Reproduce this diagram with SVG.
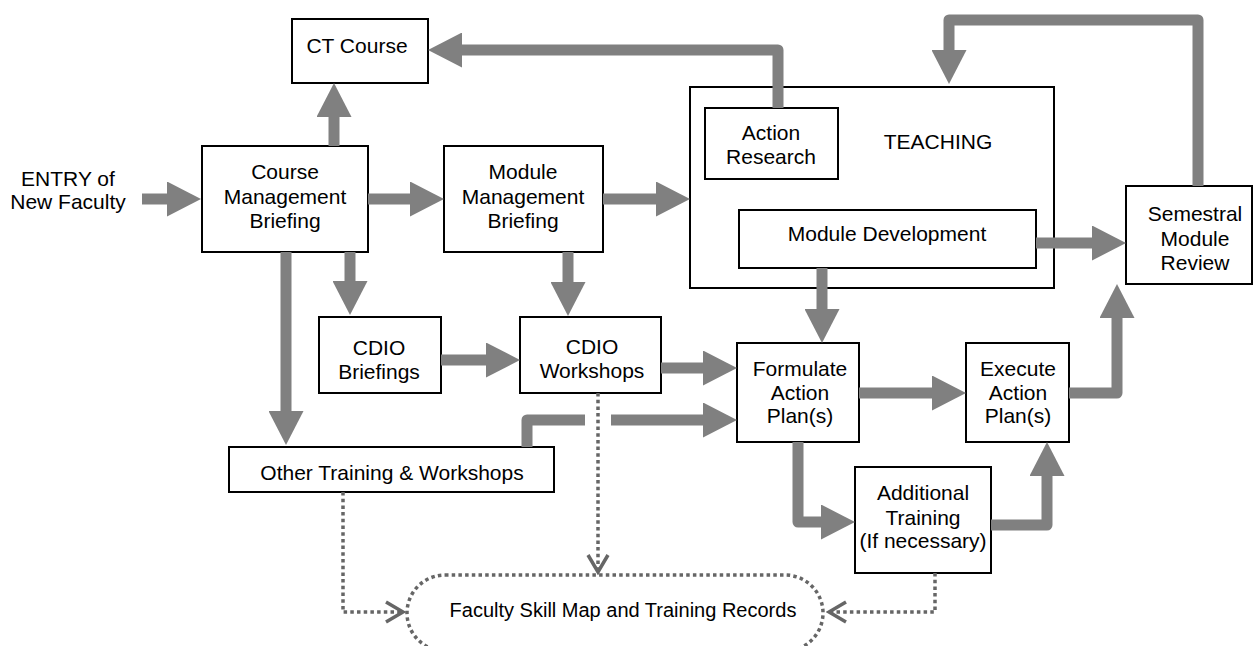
<svg xmlns="http://www.w3.org/2000/svg" width="1253" height="646" viewBox="0 0 1253 646">
<style>
.box{fill:#fff;stroke:#000;stroke-width:2}
.t{font-family:"Liberation Sans",Arial,sans-serif;font-size:21px;fill:#000;text-anchor:middle}
.arr{fill:none;stroke:#808080;stroke-width:11;stroke-linejoin:round;marker-end:url(#ah)}
.seg{fill:none;stroke:#808080;stroke-width:11;stroke-linejoin:round}
.dot{fill:none;stroke:#666;stroke-width:3.5;stroke-dasharray:3.5 3.2}
.dotarr{fill:none;stroke:#666;stroke-width:3.5;stroke-dasharray:3.5 3.2;marker-end:url(#ch)}
</style>
<defs>
<marker id="ah" markerUnits="userSpaceOnUse" viewBox="0 0 34 35" markerWidth="34" markerHeight="35" refX="0" refY="17.5" orient="auto">
<path d="M0,0 L34,17.5 L0,35 Z" fill="#808080"/>
</marker>
<marker id="ch" markerUnits="userSpaceOnUse" viewBox="-21 -13 24 26" markerWidth="24" markerHeight="26" refX="0" refY="0" orient="auto">
<path d="M-17,-10 L0,0 L-17,10" fill="none" stroke="#666" stroke-width="3.5"/>
</marker>
</defs>
<rect width="1253" height="646" fill="#fff"/>

<g id="entry">
<text class="t" x="68" y="186">ENTRY of</text>
<text class="t" x="68" y="209">New Faculty</text>
</g>
<g id="ct-course">
<rect class="box" x="292" y="19" width="136" height="64"/>
<text class="t" x="357" y="53">CT Course</text>
</g>
<g id="course-mgmt">
<rect class="box" x="202" y="146" width="166" height="106"/>
<text class="t" x="285" y="179">Course</text>
<text class="t" x="285" y="204">Management</text>
<text class="t" x="285" y="228">Briefing</text>
</g>
<g id="module-mgmt">
<rect class="box" x="444" y="146" width="159" height="106"/>
<text class="t" x="523" y="179">Module</text>
<text class="t" x="523" y="204">Management</text>
<text class="t" x="523" y="228">Briefing</text>
</g>
<g id="teaching">
<rect class="box" x="690" y="87" width="364" height="201"/>
<text class="t" x="938" y="149">TEACHING</text>
</g>
<g id="action-research">
<rect class="box" x="705" y="108" width="133" height="71"/>
<text class="t" x="771" y="140">Action</text>
<text class="t" x="771" y="164">Research</text>
</g>
<g id="module-dev">
<rect class="box" x="739" y="210" width="297" height="58"/>
<text class="t" x="887" y="241">Module Development</text>
</g>
<g id="semestral">
<rect class="box" x="1126" y="186" width="126" height="98"/>
<text class="t" x="1195" y="221">Semestral</text>
<text class="t" x="1195" y="246">Module</text>
<text class="t" x="1195" y="270">Review</text>
</g>
<g id="cdio-briefings">
<rect class="box" x="319" y="317" width="122" height="76"/>
<text class="t" x="379" y="355">CDIO</text>
<text class="t" x="379" y="379">Briefings</text>
</g>
<g id="cdio-workshops">
<rect class="box" x="520" y="317" width="141" height="76"/>
<text class="t" x="592" y="354">CDIO</text>
<text class="t" x="592" y="378">Workshops</text>
</g>
<g id="other-training">
<rect class="box" x="229" y="447" width="325" height="45"/>
<text class="t" x="392" y="480">Other Training &amp; Workshops</text>
</g>
<g id="formulate">
<rect class="box" x="737" y="343" width="122" height="99"/>
<text class="t" x="800" y="376">Formulate</text>
<text class="t" x="800" y="400">Action</text>
<text class="t" x="800" y="423">Plan(s)</text>
</g>
<g id="execute">
<rect class="box" x="966" y="343" width="103" height="99"/>
<text class="t" x="1018" y="376">Execute</text>
<text class="t" x="1018" y="400">Action</text>
<text class="t" x="1018" y="423">Plan(s)</text>
</g>
<g id="additional">
<rect class="box" x="855" y="467" width="136" height="106"/>
<text class="t" x="923" y="500">Additional</text>
<text class="t" x="923" y="525">Training</text>
<text class="t" x="923" y="548">(If necessary)</text>
</g>
<g id="faculty-records">
<rect class="dot" x="407" y="575" width="416" height="76" rx="38" ry="38"/>
<text class="t" x="623" y="617" style="font-size:20px">Faculty Skill Map and Training Records</text>
</g>

<g id="connectors">
<path class="arr" d="M142,199 H167"/>
<path class="arr" d="M334,146 V117"/>
<path class="arr" d="M368,199 H410"/>
<path class="arr" d="M603,199 H656"/>
<path class="arr" d="M778,108 V50 H462"/>
<path class="arr" d="M1198,186 V20 H949 V50"/>
<path class="arr" d="M1036,243 H1092"/>
<path class="arr" d="M350,252 V281"/>
<path class="arr" d="M568,252 V282"/>
<path class="arr" d="M286,252 V411"/>
<path class="arr" d="M441,360 H486"/>
<path class="arr" d="M661,368 H703"/>
<path class="seg" d="M527,447 V420 H585"/>
<path class="arr" d="M611,420 H703"/>
<path class="arr" d="M822,268 V309"/>
<path class="arr" d="M859,393 H932"/>
<path class="arr" d="M1069,393 H1117 V318"/>
<path class="arr" d="M798,442 V522 H821"/>
<path class="arr" d="M991,525 H1047 V476"/>
<path class="dotarr" d="M343,492 V612 H403"/>
<path class="dotarr" d="M598,393 V572"/>
<path class="dotarr" d="M935,573 V612 H829"/>
</g>
</svg>
